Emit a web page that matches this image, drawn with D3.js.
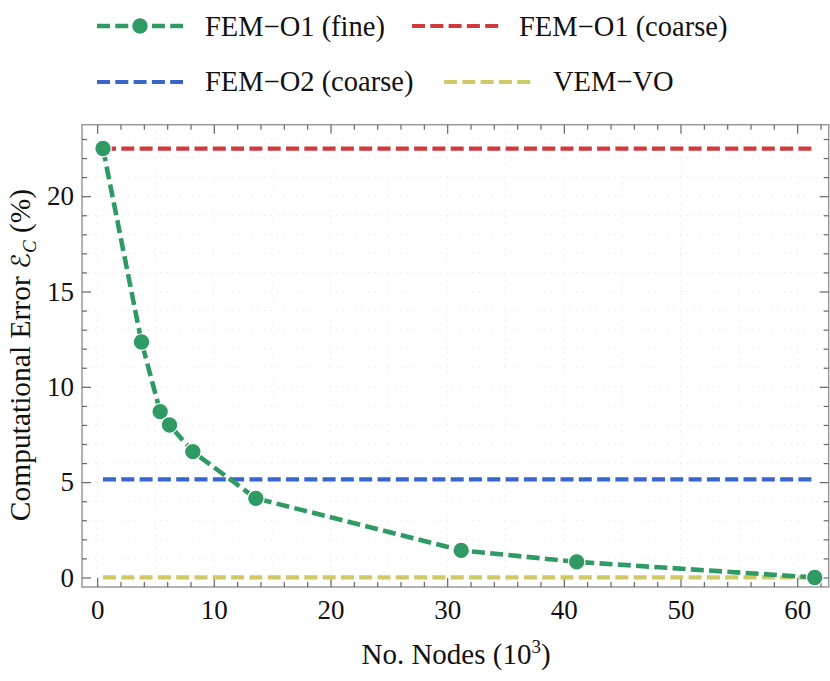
<!DOCTYPE html>
<html>
<head>
<meta charset="utf-8">
<script src="https://cdn.jsdelivr.net/npm/d3@7"></script>
<style>
html,body{margin:0;padding:0;background:#fff;}
svg{display:block;}
</style>
</head>
<body>
<svg id="chart" width="830" height="681"></svg>
<script>
// ---- data ----
const nodesFine = [0.5, 3.8, 5.4, 6.2, 8.2, 13.6, 31.2, 41.1, 61.5];
const errorFine = [22.5, 12.35, 8.7, 8.0, 6.6, 4.15, 1.42, 0.82, 0.0];
const errorO1Coarse = 22.5;
const errorO2Coarse = 5.15;
const errorVEM = 0.0;
const xRangeRef = [0.5, 61.5];
const xTickValues = [0, 10, 20, 30, 40, 50, 60];
const yTickValues = [0, 5, 10, 15, 20];
const xMinorValues = [2, 4, 6, 8, 12, 14, 16, 18, 22, 24, 26, 28, 32, 34, 36, 38, 42, 44, 46, 48, 52, 54, 56, 58, 62];
const yMinorValues = [1, 2, 3, 4, 6, 7, 8, 9, 11, 12, 13, 14, 16, 17, 18, 19, 21, 22, 23];
const seriesNames = ["FEM\u2212O1 (fine)", "FEM\u2212O1 (coarse)", "FEM\u2212O2 (coarse)", "VEM\u2212VO"];

// ---- styling ----
const colors = {fine:"#2f9a63", o1:"#d13a3d", o2:"#3a66cc", vem:"#cfca66"};
const dash = "13,5.3";
const serif = "'Liberation Serif', 'Times New Roman', serif";
const svg = d3.select("#chart");
const L = 82, R = 828.7, T = 124.7, B = 587;
const x = d3.scaleLinear().domain([-1.3, 62.7]).range([L, R]);
const y = d3.scaleLinear().domain([-0.5, 23.75]).range([B, T]);

// faint gridlines
svg.append("g").selectAll("line").data(d3.range(0, 61, 5)).join("line")
  .attr("x1", d => x(d)).attr("x2", d => x(d)).attr("y1", T).attr("y2", B)
  .attr("stroke", "#ebebeb").attr("stroke-width", 1).attr("stroke-dasharray", "1.5,5");
svg.append("g").selectAll("line").data(d3.range(0, 24, 1)).join("line")
  .attr("y1", d => y(d)).attr("y2", d => y(d)).attr("x1", L).attr("x2", R)
  .attr("stroke", "#ebebeb").attr("stroke-width", 1).attr("stroke-dasharray", "1.5,5");

// frame
svg.append("rect").attr("x", L).attr("y", T).attr("width", R - L).attr("height", B - T)
  .attr("fill", "none").attr("stroke", "#9a9a9a").attr("stroke-width", 1.5);

// axes (inward ticks)
function styleAxis(sel, withText){
  sel.select(".domain").remove();
  sel.selectAll(".tick line").attr("stroke", "#666").attr("stroke-width", 1.2);
  if (withText) sel.selectAll(".tick text").attr("font-family", serif).attr("font-size", 27).attr("fill", "#111");
  else sel.selectAll(".tick text").remove();
}
// bottom
svg.append("g").attr("transform", `translate(0,${B})`)
  .call(d3.axisBottom(x).tickValues(xTickValues).tickFormat(d3.format("d")).tickSize(-9).tickPadding(13))
  .call(s => styleAxis(s, true));
svg.append("g").attr("transform", `translate(0,${B})`)
  .call(d3.axisBottom(x).tickValues(xMinorValues).tickFormat("").tickSize(-5)).call(s => styleAxis(s, false));
// top
svg.append("g").attr("transform", `translate(0,${T})`)
  .call(d3.axisTop(x).tickValues(xTickValues).tickFormat("").tickSize(-9)).call(s => styleAxis(s, false));
svg.append("g").attr("transform", `translate(0,${T})`)
  .call(d3.axisTop(x).tickValues(xMinorValues).tickFormat("").tickSize(-5)).call(s => styleAxis(s, false));
// left
svg.append("g").attr("transform", `translate(${L},0)`)
  .call(d3.axisLeft(y).tickValues(yTickValues).tickFormat(d3.format("d")).tickSize(-9).tickPadding(8))
  .call(s => styleAxis(s, true));
svg.append("g").attr("transform", `translate(${L},0)`)
  .call(d3.axisLeft(y).tickValues(yMinorValues).tickFormat("").tickSize(-5)).call(s => styleAxis(s, false));
// right
svg.append("g").attr("transform", `translate(${R},0)`)
  .call(d3.axisRight(y).tickValues(yTickValues).tickFormat("").tickSize(-9)).call(s => styleAxis(s, false));
svg.append("g").attr("transform", `translate(${R},0)`)
  .call(d3.axisRight(y).tickValues(yMinorValues).tickFormat("").tickSize(-5)).call(s => styleAxis(s, false));

// series
function hline(val, color){
  svg.append("line").attr("x1", x(xRangeRef[0])).attr("x2", x(xRangeRef[1]))
    .attr("y1", y(val)).attr("y2", y(val)).attr("stroke", color).attr("stroke-width", 4.2)
    .attr("stroke-dasharray", dash);
}
hline(errorVEM, colors.vem);
hline(errorO2Coarse, colors.o2);
hline(errorO1Coarse, colors.o1);
const finePts = nodesFine.map((v, i) => [v, errorFine[i]]);
const line = d3.line().x(d => x(d[0])).y(d => y(d[1]));
svg.append("path").datum(finePts).attr("d", line).attr("fill", "none")
  .attr("stroke", colors.fine).attr("stroke-width", 4.6).attr("stroke-dasharray", dash);
svg.append("g").selectAll("circle").data(finePts).join("circle")
  .attr("cx", d => x(d[0])).attr("cy", d => y(d[1])).attr("r", 8.3)
  .attr("fill", colors.fine).attr("stroke", "#fff").attr("stroke-width", 1.2);

// legend
const legend = [
  {name: seriesNames[0], color: colors.fine, x1: 97, x2: 183, ly: 26, tx: 205, ty: 36, marker: true},
  {name: seriesNames[1], color: colors.o1, x1: 412, x2: 500, ly: 26, tx: 519, ty: 36},
  {name: seriesNames[2], color: colors.o2, x1: 97, x2: 183, ly: 82, tx: 205, ty: 91},
  {name: seriesNames[3], color: colors.vem, x1: 444, x2: 532, ly: 82, tx: 553, ty: 91}
];
legend.forEach(e => {
  svg.append("line").attr("x1", e.x1).attr("x2", e.x2).attr("y1", e.ly).attr("y2", e.ly)
    .attr("stroke", e.color).attr("stroke-width", e.marker ? 4.6 : 4.2).attr("stroke-dasharray", dash);
  if (e.marker) svg.append("circle").attr("cx", (e.x1 + e.x2) / 2).attr("cy", e.ly).attr("r", 8.3)
    .attr("fill", e.color).attr("stroke", "#fff").attr("stroke-width", 1.2);
  svg.append("text").attr("x", e.tx).attr("y", e.ty).attr("font-family", serif)
    .attr("font-size", 28.5).attr("fill", "#111").text(e.name);
});

// axis labels
const xl = svg.append("text").attr("x", 456).attr("y", 664).attr("text-anchor", "middle")
  .attr("font-family", serif).attr("font-size", 29).attr("fill", "#111");
xl.append("tspan").text("No. Nodes (10");
xl.append("tspan").attr("dy", -11).attr("font-size", 19).text("3");
xl.append("tspan").attr("dy", 11).text(")");

const yl = svg.append("text").attr("transform", "translate(30,355) rotate(-90)")
  .attr("text-anchor", "middle").attr("font-family", serif).attr("font-size", 29.5).attr("fill", "#111");
yl.append("tspan").text("Computational Error ");
yl.append("tspan").attr("font-family", "'DejaVu Serif', 'DejaVu Sans'").attr("font-size", 26).text("\u2130");
yl.append("tspan").attr("dy", 6).attr("font-size", 19).attr("font-style", "italic").text("C");
yl.append("tspan").attr("dy", -6).text(" (%)");
</script>
</body>
</html>
